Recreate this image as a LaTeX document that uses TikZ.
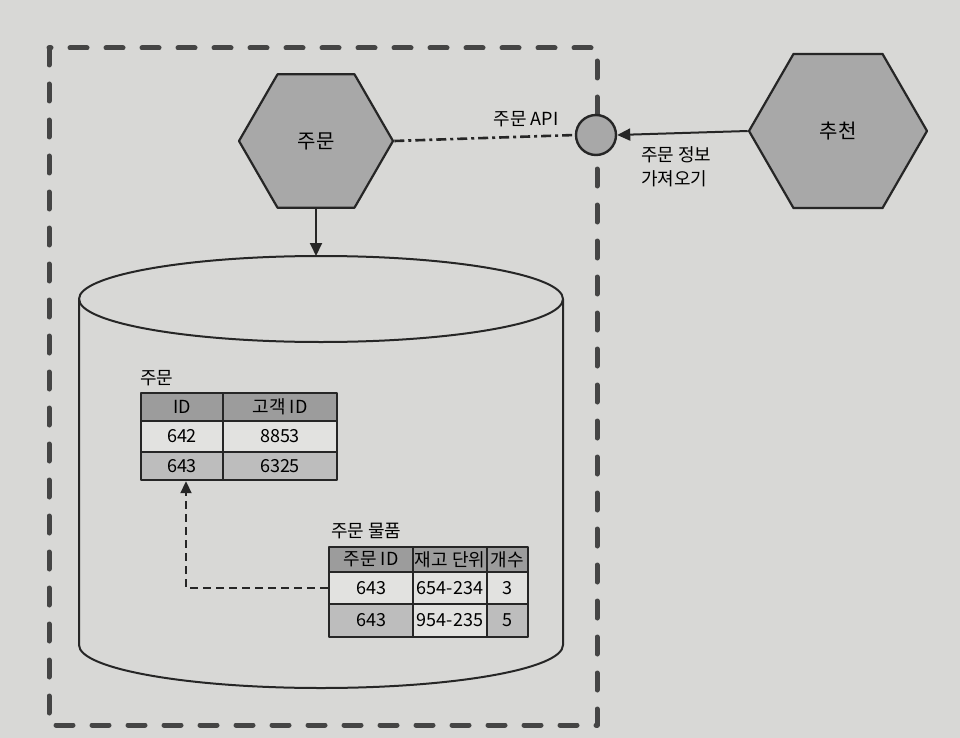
\documentclass[tikz,border=0pt]{standalone}
\usepackage{fontspec}
\setmainfont{Noto Sans CJK KR}
\usetikzlibrary{arrows.meta,shapes.geometric}
\definecolor{paper}{HTML}{D8D8D6}
\definecolor{ink}{HTML}{262626}
\definecolor{hexfill}{HTML}{A8A8A8}
\definecolor{hdrfill}{HTML}{9C9C9C}
\definecolor{litefill}{HTML}{E2E2E0}
\definecolor{darkfill}{HTML}{BDBDBD}
\definecolor{bound}{HTML}{454545}
\tikzset{tip/.style={-{Triangle[length=13pt,width=12pt]}},
  hexa/.style={regular polygon, regular polygon sides=6,
    draw=ink, line width=2.2pt, fill=hexfill, inner sep=0pt, font=\fontsize{20}{24}\selectfont},
  cell/.style={draw=ink, line width=2.4pt, inner sep=0pt, font=\fontsize{18}{22}\selectfont},
  lbl/.style={inner sep=0pt, font=\fontsize{18}{24}\selectfont}}

\begin{document}
\begin{tikzpicture}[x=1pt, y=-1pt, line join=round]
  \useasboundingbox (0,0) rectangle (960,738);
  \fill[paper] (0,0) rectangle (960,738);

  % service boundary
  \draw[bound, line width=5pt, line cap=round, dash pattern=on 17pt off 19pt] (49,48) rectangle (597,725);

  % services
  \node[hexa, minimum size=154pt] (ord) at (316,141) {주문};
  \node[hexa, minimum size=178pt] (rec) at (838,131) {추천};
  \node[circle, draw=ink, line width=2.4pt, fill=hexfill, minimum size=40pt, inner sep=0pt] (port) at (596,135) {};

  % database
  \coordinate (db) at (321,256);
  \draw[ink, line width=2pt] (321,299) ellipse [x radius=242, y radius=43];
  \draw[ink, line width=2pt] (79,299) -- (79,645) arc[start angle=180, end angle=0, x radius=242, y radius=43] -- (563,299);

  % orders table
  \node[lbl, anchor=west] (ordtab) at (140,378) {주문};
  \node[cell, fill=hdrfill, minimum width=82pt, minimum height=28pt] (oh1) at (182,407) {ID};
  \node[cell, fill=hdrfill, minimum width=114pt, minimum height=28pt] (oh2) at (280,407) {고객 ID};
  \node[cell, fill=litefill, minimum width=82pt, minimum height=31pt] (o11) at (182,436.5) {642};
  \node[cell, fill=litefill, minimum width=114pt, minimum height=31pt] (o12) at (280,436.5) {8853};
  \node[cell, fill=darkfill, minimum width=82pt, minimum height=28pt] (o21) at (182,466) {643};
  \node[cell, fill=darkfill, minimum width=114pt, minimum height=28pt] (o22) at (280,466) {6325};

  % order items table
  \node[lbl, anchor=west] (itemtab) at (331,531) {주문 물품};
  \node[cell, fill=hdrfill, minimum width=84pt, minimum height=25pt] (ih1) at (371,559.5) {주문 ID};
  \node[cell, fill=hdrfill, minimum width=74pt, minimum height=25pt] (ih2) at (450,559.5) {재고 단위};
  \node[cell, fill=hdrfill, minimum width=41pt, minimum height=25pt] (ih3) at (507.5,559.5) {개수};
  \node[cell, fill=litefill, minimum width=84pt, minimum height=32pt] (i11) at (371,588) {643};
  \node[cell, fill=litefill, minimum width=74pt, minimum height=32pt] (i12) at (450,588) {654-234};
  \node[cell, fill=litefill, minimum width=41pt, minimum height=32pt] (i13) at (507.5,588) {3};
  \node[cell, fill=darkfill, minimum width=84pt, minimum height=33pt] (i21) at (371,620.5) {643};
  \node[cell, fill=litefill, minimum width=74pt, minimum height=33pt] (i22) at (450,620.5) {954-235};
  \node[cell, fill=darkfill, minimum width=41pt, minimum height=33pt] (i23) at (507.5,620.5) {5};

  % connectors
  \draw[tip, ink, line width=2pt] (ord.south) -- (ord.south |- db);
  \draw[ink, line width=2.6pt, dash pattern=on 10pt off 4pt on 3pt off 4pt] (ord.east) -- (port.west);
  \draw[tip, ink, line width=2pt] (rec.west) -- (port.east);
  \draw[ink, line width=2pt, dash pattern=on 8pt off 5pt, -{Triangle[length=12pt,width=11pt]}]
    (i11.west) -| ([xshift=4pt]o21.south);

  \node[lbl] (apilbl) at (526,119) {주문 API};
  \node[lbl, anchor=west, align=left] (getlbl) at (641,167) {주문 정보\\가져오기};
\end{tikzpicture}
\end{document}
